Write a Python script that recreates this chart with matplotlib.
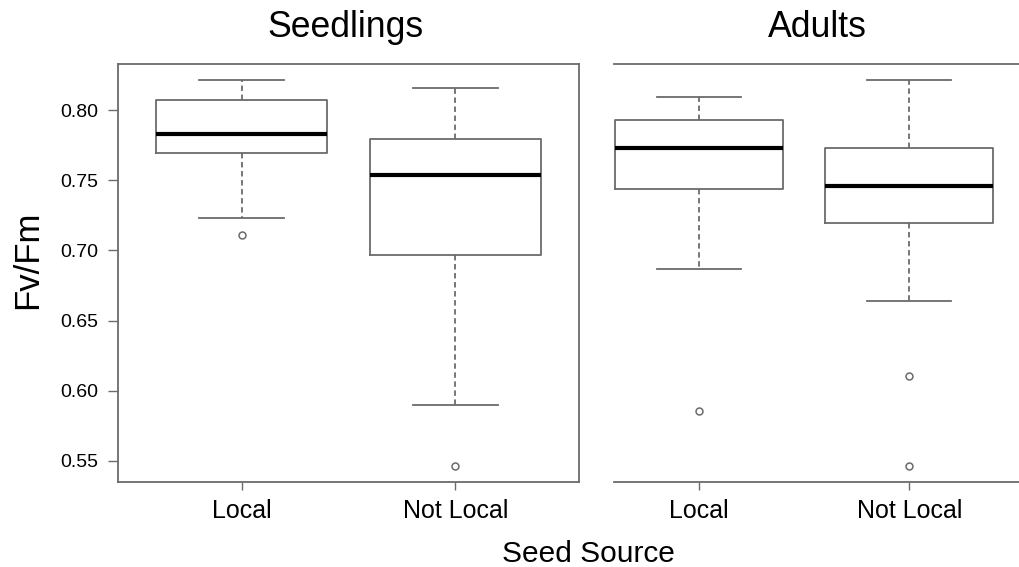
import matplotlib
matplotlib.use("Agg")
import matplotlib.pyplot as plt

plt.rcParams['font.family'] = ['Liberation Sans', 'DejaVu Sans']

groups = ["Local", "Not Local"]
panels = ["Seedlings", "Adults"]

# five-number summaries per panel: [Local, Not Local]
seed_whislo = [0.7231, 0.5900]
seed_q1 = [0.7693, 0.6971]
seed_med = [0.7833, 0.7536]
seed_q3 = [0.8069, 0.7793]
seed_whishi = [0.8214, 0.8157]
seed_fliers = [[0.7112], [0.5464]]

adult_whislo = [0.6869, 0.6638]
adult_q1 = [0.7440, 0.7198]
adult_med = [0.7731, 0.7457]
adult_q3 = [0.7931, 0.7731]
adult_whishi = [0.8095, 0.8212]
adult_fliers = [[0.5857], [0.6105, 0.5464]]

yticks = [0.55, 0.60, 0.65, 0.70, 0.75, 0.80]

W, H = 1020, 567
fig = plt.figure(figsize=(W / 100, H / 100), dpi=100)


def ax_rect(x0, x1, y0, y1):
    return [x0 / W, 1 - y1 / H, (x1 - x0) / W, (y1 - y0) / H]


ax1 = fig.add_axes(ax_rect(118, 579, 64, 482))
ax2 = fig.add_axes(ax_rect(614, 1020, 64, 482))

GRAY = "#6b6b6b"


def make_stats(lo, q1, med, q3, hi, fl):
    return [dict(whislo=lo[i], q1=q1[i], med=med[i], q3=q3[i], whishi=hi[i],
                 fliers=fl[i], label=groups[i]) for i in range(len(groups))]


def draw(ax, stats):
    ax.bxp(stats, positions=[1, 2], widths=0.8, showfliers=True,
           boxprops=dict(color=GRAY, linewidth=1.3),
           medianprops=dict(color="black", linewidth=3.0, solid_capstyle="butt"),
           whiskerprops=dict(color=GRAY, linewidth=1.3, linestyle=(0, (3, 2))),
           capprops=dict(color=GRAY, linewidth=1.3),
           capwidths=0.4,
           flierprops=dict(marker="o", markersize=5, markerfacecolor="white",
                           markeredgecolor=GRAY, markeredgewidth=1.1))
    ax.set_ylim(0.535, 0.8329)
    ax.set_xticks([1, 2])
    ax.set_xticklabels(groups, fontsize=18)
    ax.tick_params(axis="x", direction="out", length=6, width=1.0, color=GRAY, pad=6)
    for s in ax.spines.values():
        s.set_color(GRAY)
        s.set_linewidth(1.3)


draw(ax1, make_stats(seed_whislo, seed_q1, seed_med, seed_q3, seed_whishi, seed_fliers))
ax1.set_xlim(0.42, 2.58)
ax1.set_yticks(yticks)
ax1.set_yticklabels([f"{v:.2f}" for v in yticks], fontsize=14)
ax1.tick_params(axis="y", direction="out", length=7, width=1.0, color=GRAY, pad=7)

draw(ax2, make_stats(adult_whislo, adult_q1, adult_med, adult_q3, adult_whishi, adult_fliers))
ax2.set_xlim(0.594, 2.527)
ax2.set_yticks([])
ax2.spines["left"].set_visible(False)
ax2.spines["right"].set_visible(False)

fig.text(345 / W, 1 - 37 / H, panels[0], fontsize=25.7, ha="center", va="baseline")
fig.text(817 / W, 1 - 37 / H, panels[1], fontsize=25.7, ha="center", va="baseline")
fig.text(28 / W, 1 - 260 / H, "Fv/Fm", fontsize=25, rotation=90, ha="center", va="center")
fig.text(588 / W, 1 - 562 / H, "Seed Source", fontsize=21.5, ha="center", va="baseline")

fig.savefig("out.png", dpi=100, facecolor="white")
